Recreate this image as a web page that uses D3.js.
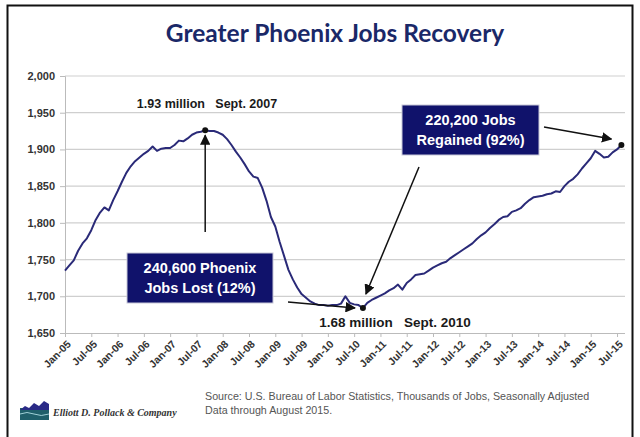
<!DOCTYPE html>
<html>
<head>
<meta charset="utf-8">
<script src="https://cdn.jsdelivr.net/npm/d3@7"></script>
<style>
  body { margin: 0; background: #fff; }
  svg { display: block; font-family: "Liberation Sans", Arial, sans-serif; }
</style>
</head>
<body>
<div id="chart"></div>
<script>
// Greater Phoenix nonfarm jobs, thousands, monthly Jan-2005 .. Aug-2015
const jobs = [
  1735, 1742, 1749, 1762, 1772, 1779, 1790, 1804, 1814, 1821, 1817, 1831,
  1843, 1856, 1868, 1877, 1884, 1889, 1894, 1898, 1904, 1898, 1901, 1902,
  1902, 1906, 1912, 1911, 1915, 1920, 1923, 1924, 1926, 1925, 1925, 1923,
  1920, 1914, 1906, 1897, 1889, 1880, 1870, 1863, 1861, 1848, 1830, 1808,
  1795, 1774, 1755, 1736, 1723, 1712, 1703, 1698, 1693, 1690, 1688, 1688,
  1687, 1688, 1688, 1690, 1700, 1691, 1689, 1688, 1684, 1691, 1695, 1698,
  1701, 1704, 1708, 1711, 1716, 1709, 1718, 1723, 1729, 1730, 1731, 1735,
  1739, 1742, 1745, 1747, 1752, 1756, 1760, 1764, 1768, 1772, 1778, 1783,
  1787, 1793, 1798, 1804, 1808, 1809, 1815, 1817, 1820, 1826, 1831, 1835,
  1836, 1837, 1839, 1840, 1843, 1842, 1850, 1856, 1860, 1866, 1874, 1881,
  1888, 1898, 1894, 1889, 1890, 1896, 1900, 1906
];
const tickLabels = ["Jan-05","Jul-05","Jan-06","Jul-06","Jan-07","Jul-07","Jan-08","Jul-08",
  "Jan-09","Jul-09","Jan-10","Jul-10","Jan-11","Jul-11","Jan-12","Jul-12","Jan-13","Jul-13",
  "Jan-14","Jul-14","Jan-15","Jul-15"];
const yTicks = [1650, 1700, 1750, 1800, 1850, 1900, 1950, 2000];
const peakIdx = 32;    // Sept. 2007
const troughIdx = 68;  // Sept. 2010
const lastIdx = jobs.length - 1;

const width = 640, height = 437;
const navy = "#10126b";

const svg = d3.select("#chart").append("svg")
  .attr("width", width).attr("height", height);

svg.append("defs").append("marker")
  .attr("id", "arrow")
  .attr("viewBox", "0 0 10 10")
  .attr("refX", 9).attr("refY", 5)
  .attr("markerWidth", 7).attr("markerHeight", 7)
  .attr("orient", "auto")
  .append("path").attr("d", "M0,0 L10,5 L0,10 z").attr("fill", "#111");

// frame
svg.append("path")
  .attr("d", "M7.5,440 V5.5 H632.5 V440")
  .attr("fill", "none").attr("stroke", "#111").attr("stroke-width", 2);

svg.append("text")
  .attr("x", 335).attr("y", 42)
  .attr("text-anchor", "middle")
  .attr("font-family", "Lato, 'Open Sans', sans-serif")
  .attr("font-weight", 700)
  .attr("font-size", 24.5)
  .attr("fill", "#1a2868")
  .text("Greater Phoenix Jobs Recovery");

const x = d3.scaleLinear().domain([0, 127]).range([65, 621.4]);
const y = d3.scaleLinear().domain([1650, 2000]).range([333, 76]);

// gridlines
svg.append("g")
  .selectAll("line")
  .data(yTicks.slice(1))
  .join("line")
  .attr("x1", 65).attr("x2", 625)
  .attr("y1", d => y(d)).attr("y2", d => y(d))
  .attr("stroke", "#cfcfcf").attr("stroke-width", 1.2);

// y axis
const yAxis = svg.append("g")
  .attr("transform", "translate(65,0)")
  .call(d3.axisLeft(y).tickValues(yTicks).tickSize(5).tickPadding(5).tickFormat(d3.format(",")));
yAxis.select(".domain").attr("stroke", "#bbb");
yAxis.selectAll(".tick line").attr("stroke", "#bbb");
yAxis.selectAll("text")
  .attr("font-size", 11).attr("font-weight", "bold").attr("fill", "#333")
  .attr("font-family", "'Liberation Sans', Arial, sans-serif");

// x axis
const xAxis = svg.append("g")
  .attr("transform", `translate(0,${y(1650)})`)
  .call(d3.axisBottom(x).tickValues(d3.range(0, 127, 6)).tickSize(4)
    .tickFormat((d, i) => tickLabels[i]));
xAxis.select(".domain").attr("stroke", "#bbb").attr("d", `M65,0.5 H625`);
xAxis.selectAll(".tick line").attr("stroke", "#bbb");
xAxis.selectAll("text")
  .attr("font-size", 10.5).attr("font-weight", "bold").attr("fill", "#333")
  .attr("font-family", "'Liberation Sans', Arial, sans-serif")
  .attr("text-anchor", "end")
  .attr("transform", "translate(2,5) rotate(-45)")
  .attr("dy", "0.35em").attr("y", 4).attr("x", -2);

// the line
const line = d3.line().x((d, i) => x(i)).y(d => y(d));
svg.append("path")
  .datum(jobs)
  .attr("d", line)
  .attr("fill", "none")
  .attr("stroke", "#2a2a78")
  .attr("stroke-width", 2)
  .attr("stroke-linejoin", "round");

// key points
svg.append("g").selectAll("circle")
  .data([peakIdx, troughIdx, lastIdx])
  .join("circle")
  .attr("cx", d => x(d)).attr("cy", d => y(jobs[d]))
  .attr("r", 3).attr("fill", "#111");

// annotations
const bold = g => g.attr("font-weight", "bold").attr("font-size", 12.5).attr("fill", "#1a1a1a");
svg.append("text").attr("x", 207).attr("y", 108).attr("text-anchor", "middle")
  .call(bold).attr("xml:space", "preserve").text("1.93 million   Sept. 2007");
svg.append("text").attr("x", 395).attr("y", 327).attr("text-anchor", "middle")
  .call(bold).attr("font-size", 13.5).attr("xml:space", "preserve").text("1.68 million   Sept. 2010");

function arrow(x1, y1, x2, y2) {
  svg.append("line")
    .attr("x1", x1).attr("y1", y1).attr("x2", x2).attr("y2", y2)
    .attr("stroke", "#111").attr("stroke-width", 1.5)
    .attr("marker-end", "url(#arrow)");
}
arrow(x(peakIdx), 232, x(peakIdx), y(jobs[peakIdx]) + 5);
arrow(288, 302, 355, 308);
arrow(419, 167, x(troughIdx) + 3, y(jobs[troughIdx]) - 14);
arrow(544, 127, x(lastIdx) - 10, y(jobs[lastIdx]) - 6);

function box(x0, y0, w, h, lines) {
  svg.append("rect").attr("x", x0).attr("y", y0).attr("width", w).attr("height", h)
    .attr("fill", navy).attr("stroke", "#c8c8d8").attr("stroke-width", 1);
  svg.append("g").selectAll("text").data(lines).join("text")
    .attr("x", x0 + w / 2).attr("y", (d, i) => y0 + 20 + i * 20)
    .attr("text-anchor", "middle")
    .attr("font-weight", "bold").attr("font-size", 14.5).attr("fill", "#fff")
    .text(d => d);
}
box(127, 253, 146, 50, ["240,600 Phoenix", "Jobs Lost (12%)"]);
box(402, 105, 137, 50, ["220,200 Jobs", "Regained (92%)"]);

// footer
const foot = svg.append("g").attr("font-size", 10.7).attr("fill", "#555");
foot.append("text").attr("x", 205).attr("y", 400)
  .text("Source: U.S. Bureau of Labor Statistics, Thousands of Jobs, Seasonally Adjusted");
foot.append("text").attr("x", 205).attr("y", 414).text("Data through August 2015.");

// company logo
const logo = svg.append("g").attr("transform", "translate(20,400)");
logo.append("rect").attr("x", 0).attr("y", 8).attr("width", 29).attr("height", 12).attr("fill", "#1f5f6a");
logo.append("path").attr("d", "M0,10 L5,6 L9,8 L14,3 L19,6 L24,1 L29,4 L29,10 Z").attr("fill", "#2a2a86");
logo.append("path").attr("d", "M0,14 Q7,11 14,14 T29,14").attr("fill", "none").attr("stroke", "#9fd0d6").attr("stroke-width", 1);
svg.append("text").attr("x", 53).attr("y", 416)
  .attr("font-family", "'Liberation Serif', 'DejaVu Serif', serif")
  .attr("font-style", "italic").attr("font-weight", "bold")
  .attr("font-size", 10).attr("fill", "#333")
  .text("Elliott D. Pollack & Company");
</script>
</body>
</html>
